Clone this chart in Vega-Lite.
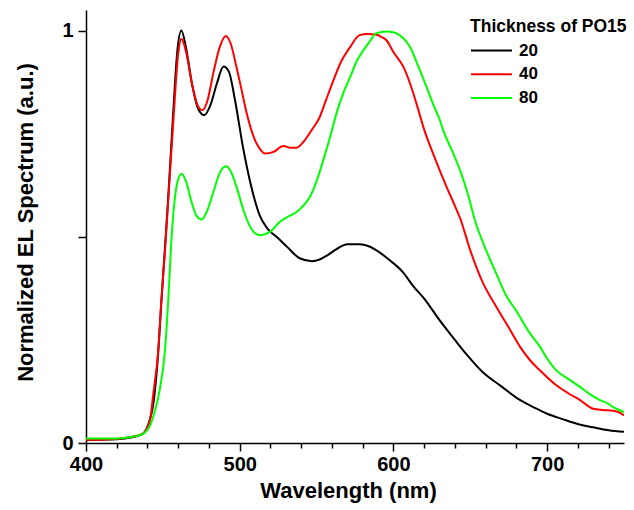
{
  "$schema": "https://vega.github.io/schema/vega-lite/v6.json",
  "width": 538,
  "height": 433,
  "autosize": {"type": "none"},
  "padding": {"left": 86, "top": 10, "right": 10, "bottom": 67},
  "background": "white",
  "config": {
    "view": {"stroke": null},
    "font": "Liberation Sans",
    "axis": {"grid": false, "domainColor": "black", "tickColor": "black", "labelColor": "black", "titleColor": "black", "labelFont": "Liberation Sans", "titleFont": "Liberation Sans", "labelFontWeight": "bold", "titleFontWeight": "bold", "domainWidth": 1.5, "tickWidth": 1.5}
  },
  "data": {
    "values": [
      {"w": 400, "v": 0.007, "t": "20"}, {"w": 410, "v": 0.008, "t": "20"}, {"w": 420, "v": 0.009, "t": "20"}, {"w": 430, "v": 0.014, "t": "20"}, {"w": 437, "v": 0.022, "t": "20"}, {"w": 441, "v": 0.05, "t": "20"}, {"w": 444, "v": 0.1, "t": "20"}, {"w": 447, "v": 0.22, "t": "20"}, {"w": 449, "v": 0.34, "t": "20"}, {"w": 451.3, "v": 0.47, "t": "20"}, {"w": 453.4, "v": 0.59, "t": "20"}, {"w": 456.4, "v": 0.78, "t": "20"}, {"w": 459.4, "v": 0.95, "t": "20"}, {"w": 462, "v": 1.0, "t": "20"}, {"w": 465, "v": 0.96, "t": "20"}, {"w": 469, "v": 0.87, "t": "20"}, {"w": 473, "v": 0.81, "t": "20"}, {"w": 477, "v": 0.795, "t": "20"}, {"w": 481, "v": 0.82, "t": "20"}, {"w": 485, "v": 0.87, "t": "20"}, {"w": 489.5, "v": 0.913, "t": "20"}, {"w": 493, "v": 0.9, "t": "20"}, {"w": 497, "v": 0.83, "t": "20"}, {"w": 502, "v": 0.72, "t": "20"}, {"w": 507, "v": 0.63, "t": "20"}, {"w": 513, "v": 0.552, "t": "20"}, {"w": 518, "v": 0.52, "t": "20"}, {"w": 524, "v": 0.5, "t": "20"}, {"w": 531, "v": 0.475, "t": "20"}, {"w": 539, "v": 0.448, "t": "20"}, {"w": 547, "v": 0.441, "t": "20"}, {"w": 552, "v": 0.445, "t": "20"}, {"w": 557, "v": 0.455, "t": "20"}, {"w": 563, "v": 0.47, "t": "20"}, {"w": 570, "v": 0.482, "t": "20"}, {"w": 578, "v": 0.482, "t": "20"}, {"w": 584, "v": 0.477, "t": "20"}, {"w": 589, "v": 0.467, "t": "20"}, {"w": 597, "v": 0.445, "t": "20"}, {"w": 606, "v": 0.415, "t": "20"}, {"w": 613, "v": 0.38, "t": "20"}, {"w": 620, "v": 0.35, "t": "20"}, {"w": 630, "v": 0.298, "t": "20"}, {"w": 640, "v": 0.25, "t": "20"}, {"w": 648, "v": 0.213, "t": "20"}, {"w": 658, "v": 0.172, "t": "20"}, {"w": 670, "v": 0.138, "t": "20"}, {"w": 682, "v": 0.105, "t": "20"}, {"w": 692, "v": 0.085, "t": "20"}, {"w": 700, "v": 0.071, "t": "20"}, {"w": 710, "v": 0.058, "t": "20"}, {"w": 721, "v": 0.045, "t": "20"}, {"w": 730, "v": 0.038, "t": "20"}, {"w": 740, "v": 0.031, "t": "20"}, {"w": 750, "v": 0.027, "t": "20"},
      {"w": 400, "v": 0.008, "t": "40"}, {"w": 410, "v": 0.008, "t": "40"}, {"w": 420, "v": 0.01, "t": "40"}, {"w": 430, "v": 0.015, "t": "40"}, {"w": 437, "v": 0.023, "t": "40"}, {"w": 441.6, "v": 0.055, "t": "40"}, {"w": 443.8, "v": 0.12, "t": "40"}, {"w": 447, "v": 0.225, "t": "40"}, {"w": 449, "v": 0.346, "t": "40"}, {"w": 451.4, "v": 0.467, "t": "40"}, {"w": 453.5, "v": 0.588, "t": "40"}, {"w": 456.8, "v": 0.78, "t": "40"}, {"w": 460, "v": 0.945, "t": "40"}, {"w": 462, "v": 0.98, "t": "40"}, {"w": 465, "v": 0.95, "t": "40"}, {"w": 469, "v": 0.87, "t": "40"}, {"w": 472.5, "v": 0.82, "t": "40"}, {"w": 475.7, "v": 0.807, "t": "40"}, {"w": 479, "v": 0.83, "t": "40"}, {"w": 483, "v": 0.9, "t": "40"}, {"w": 487, "v": 0.96, "t": "40"}, {"w": 491, "v": 0.987, "t": "40"}, {"w": 494, "v": 0.97, "t": "40"}, {"w": 498, "v": 0.91, "t": "40"}, {"w": 501, "v": 0.86, "t": "40"}, {"w": 504.5, "v": 0.8, "t": "40"}, {"w": 510, "v": 0.734, "t": "40"}, {"w": 513, "v": 0.714, "t": "40"}, {"w": 516.5, "v": 0.702, "t": "40"}, {"w": 522, "v": 0.706, "t": "40"}, {"w": 528.4, "v": 0.72, "t": "40"}, {"w": 533, "v": 0.716, "t": "40"}, {"w": 537, "v": 0.716, "t": "40"}, {"w": 541.4, "v": 0.73, "t": "40"}, {"w": 547, "v": 0.76, "t": "40"}, {"w": 552, "v": 0.79, "t": "40"}, {"w": 556, "v": 0.83, "t": "40"}, {"w": 561, "v": 0.88, "t": "40"}, {"w": 566, "v": 0.925, "t": "40"}, {"w": 571.8, "v": 0.96, "t": "40"}, {"w": 578, "v": 0.989, "t": "40"}, {"w": 583, "v": 0.992, "t": "40"}, {"w": 589, "v": 0.99, "t": "40"}, {"w": 592, "v": 0.985, "t": "40"}, {"w": 595.6, "v": 0.976, "t": "40"}, {"w": 600, "v": 0.948, "t": "40"}, {"w": 606.5, "v": 0.912, "t": "40"}, {"w": 611, "v": 0.87, "t": "40"}, {"w": 615, "v": 0.823, "t": "40"}, {"w": 620, "v": 0.76, "t": "40"}, {"w": 626, "v": 0.7, "t": "40"}, {"w": 634.7, "v": 0.62, "t": "40"}, {"w": 640, "v": 0.575, "t": "40"}, {"w": 643.4, "v": 0.545, "t": "40"}, {"w": 650, "v": 0.467, "t": "40"}, {"w": 658, "v": 0.39, "t": "40"}, {"w": 667, "v": 0.33, "t": "40"}, {"w": 675, "v": 0.28, "t": "40"}, {"w": 682.4, "v": 0.233, "t": "40"}, {"w": 689, "v": 0.2, "t": "40"}, {"w": 695.4, "v": 0.176, "t": "40"}, {"w": 706, "v": 0.14, "t": "40"}, {"w": 714, "v": 0.12, "t": "40"}, {"w": 721.4, "v": 0.104, "t": "40"}, {"w": 730, "v": 0.083, "t": "40"}, {"w": 736, "v": 0.08, "t": "40"}, {"w": 743, "v": 0.078, "t": "40"}, {"w": 747, "v": 0.074, "t": "40"}, {"w": 750, "v": 0.067, "t": "40"},
      {"w": 400, "v": 0.011, "t": "80"}, {"w": 410, "v": 0.011, "t": "80"}, {"w": 420, "v": 0.011, "t": "80"}, {"w": 430, "v": 0.015, "t": "80"}, {"w": 437, "v": 0.022, "t": "80"}, {"w": 442, "v": 0.045, "t": "80"}, {"w": 445, "v": 0.08, "t": "80"}, {"w": 448, "v": 0.13, "t": "80"}, {"w": 451.4, "v": 0.225, "t": "80"}, {"w": 453.5, "v": 0.346, "t": "80"}, {"w": 455.7, "v": 0.5, "t": "80"}, {"w": 458, "v": 0.6, "t": "80"}, {"w": 460, "v": 0.64, "t": "80"}, {"w": 462.2, "v": 0.653, "t": "80"}, {"w": 465, "v": 0.635, "t": "80"}, {"w": 469, "v": 0.58, "t": "80"}, {"w": 472, "v": 0.55, "t": "80"}, {"w": 475.3, "v": 0.542, "t": "80"}, {"w": 479, "v": 0.565, "t": "80"}, {"w": 483, "v": 0.61, "t": "80"}, {"w": 487, "v": 0.655, "t": "80"}, {"w": 491, "v": 0.671, "t": "80"}, {"w": 494, "v": 0.66, "t": "80"}, {"w": 498, "v": 0.62, "t": "80"}, {"w": 502, "v": 0.57, "t": "80"}, {"w": 506, "v": 0.53, "t": "80"}, {"w": 509, "v": 0.512, "t": "80"}, {"w": 513, "v": 0.504, "t": "80"}, {"w": 516, "v": 0.506, "t": "80"}, {"w": 519.7, "v": 0.512, "t": "80"}, {"w": 526, "v": 0.536, "t": "80"}, {"w": 531, "v": 0.548, "t": "80"}, {"w": 537, "v": 0.56, "t": "80"}, {"w": 542, "v": 0.578, "t": "80"}, {"w": 545.7, "v": 0.597, "t": "80"}, {"w": 550, "v": 0.635, "t": "80"}, {"w": 554.4, "v": 0.686, "t": "80"}, {"w": 559, "v": 0.745, "t": "80"}, {"w": 563, "v": 0.8, "t": "80"}, {"w": 567, "v": 0.845, "t": "80"}, {"w": 571.8, "v": 0.887, "t": "80"}, {"w": 576, "v": 0.925, "t": "80"}, {"w": 580.4, "v": 0.952, "t": "80"}, {"w": 585, "v": 0.976, "t": "80"}, {"w": 589, "v": 0.994, "t": "80"}, {"w": 595.6, "v": 0.998, "t": "80"}, {"w": 600, "v": 0.996, "t": "80"}, {"w": 604, "v": 0.989, "t": "80"}, {"w": 608, "v": 0.975, "t": "80"}, {"w": 610.8, "v": 0.96, "t": "80"}, {"w": 616, "v": 0.915, "t": "80"}, {"w": 621.6, "v": 0.863, "t": "80"}, {"w": 626, "v": 0.82, "t": "80"}, {"w": 630.3, "v": 0.782, "t": "80"}, {"w": 632.4, "v": 0.758, "t": "80"}, {"w": 638, "v": 0.71, "t": "80"}, {"w": 643.4, "v": 0.661, "t": "80"}, {"w": 648.7, "v": 0.6, "t": "80"}, {"w": 653, "v": 0.54, "t": "80"}, {"w": 660, "v": 0.47, "t": "80"}, {"w": 667, "v": 0.41, "t": "80"}, {"w": 673, "v": 0.36, "t": "80"}, {"w": 680, "v": 0.32, "t": "80"}, {"w": 688, "v": 0.27, "t": "80"}, {"w": 695.4, "v": 0.233, "t": "80"}, {"w": 700, "v": 0.205, "t": "80"}, {"w": 706, "v": 0.176, "t": "80"}, {"w": 714, "v": 0.155, "t": "80"}, {"w": 721.4, "v": 0.136, "t": "80"}, {"w": 728, "v": 0.118, "t": "80"}, {"w": 734.4, "v": 0.104, "t": "80"}, {"w": 740, "v": 0.095, "t": "80"}, {"w": 743, "v": 0.087, "t": "80"}, {"w": 747, "v": 0.08, "t": "80"}, {"w": 750, "v": 0.075, "t": "80"}
    ]
  },
  "mark": {"type": "line", "strokeWidth": 2, "interpolate": "monotone", "clip": true},
  "encoding": {
    "x": {
      "field": "w", "type": "quantitative",
      "scale": {"domain": [400, 750], "nice": false, "zero": false},
      "axis": {
        "title": "Wavelength (nm)",
        "values": [400, 420, 440, 460, 480, 500, 520, 540, 560, 580, 600, 620, 640, 660, 680, 700, 720, 740],
        "labelExpr": "datum.value % 100 === 0 ? format(datum.value, 'd') : ''",
        "tickSize": {"condition": {"test": "datum.value % 100 === 0", "value": 8}, "value": 5},
        "labelFontSize": 20, "labelPadding": 3,
        "titleFontSize": 22, "titlePadding": 6, "titleX": 262,
        "labelFlush": false, "labelOverlap": false
      }
    },
    "y": {
      "field": "v", "type": "quantitative",
      "scale": {"domain": [0, 1.05], "nice": false},
      "axis": {
        "title": "Normalized EL Spectrum (a.u.)",
        "values": [0, 0.5, 1],
        "labelExpr": "datum.value === 0 ? '0' : (datum.value === 1 ? '1' : '')",
        "tickSize": 8,
        "labelFontSize": 20, "labelPadding": 5,
        "titleFontSize": 22, "titlePadding": 24, "titleY": 212,
        "labelFlush": false, "labelOverlap": false
      }
    },
    "color": {
      "field": "t", "type": "nominal",
      "scale": {"domain": ["20", "40", "80"], "range": ["#000000", "#ff0000", "#00ff00"]},
      "legend": {
        "title": "Thickness of PO15",
        "orient": "none", "legendX": 384, "legendY": 8,
        "padding": 0,
        "symbolType": "stroke", "symbolSize": 1681, "symbolStrokeWidth": 2,
        "clipHeight": 16, "rowPadding": 6.7,
        "labelOffset": 6,
        "titleFont": "Liberation Sans", "titleFontSize": 17.5, "titleFontWeight": "bold", "titleColor": "black", "titlePadding": 7,
        "labelFont": "Liberation Sans", "labelFontSize": 17, "labelFontWeight": "bold", "labelColor": "black"
      }
    }
  }
}
